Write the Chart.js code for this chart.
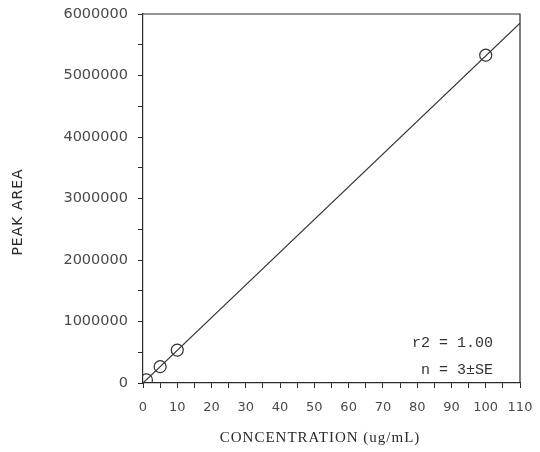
<!DOCTYPE html>
<html>
<head>
<meta charset="utf-8">
<script src="https://cdn.jsdelivr.net/npm/chart.js@4/dist/chart.umd.min.js"></script>
<style>
  html, body { margin: 0; padding: 0; background: #fff; }
  canvas { display: block; }
</style>
</head>
<body>
<canvas id="c" width="540" height="452"></canvas>
<script>
// Calibration standards: concentration (ug/mL) and measured peak area
const concentrations = [1, 5, 10, 100];
const peakAreas = [50000, 265000, 535000, 5330000];

// Fitted calibration line end points
const fitX = [0, 110];
const fitY = [0, 5850000];

// Axis ranges and labels
const xMin = 0, xMax = 110, xMinorStep = 5, xMajorStep = 10;
const yMin = 0, yMax = 6000000, yMinorStep = 500000, yMajorStep = 1000000;
const xTitle = 'CONCENTRATION (ug/mL)';
const yTitle = 'PEAK AREA';
const statLines = ['r2 = 1.00', 'n = 3\u00b1SE'];

const ink = '#2a2a2a';
const tickInk = '#4a4a4a';

// Box frame, axis titles and statistics box
const decorations = {
  id: 'decorations',
  afterDraw(chart) {
    const { ctx, chartArea: a } = chart;
    ctx.save();
    ctx.strokeStyle = ink;
    ctx.lineWidth = 1.2;
    ctx.beginPath();
    ctx.moveTo(a.left, a.top);
    ctx.lineTo(a.right, a.top);
    ctx.lineTo(a.right, a.bottom);
    ctx.stroke();

    // x axis title
    ctx.fillStyle = ink;
    ctx.font = '15px "Liberation Serif", serif';
    ctx.letterSpacing = '1px';
    ctx.textAlign = 'center';
    ctx.textBaseline = 'middle';
    ctx.fillText(xTitle, 320, 438);

    // y axis title
    ctx.save();
    ctx.translate(18, 212);
    ctx.rotate(-Math.PI / 2);
    ctx.font = '14px "DejaVu Sans", sans-serif';
    ctx.letterSpacing = '1px';
    ctx.fillText(yTitle, 0, 0);
    ctx.restore();

    // regression statistics
    ctx.letterSpacing = '0px';
    ctx.font = '15px "Liberation Mono", monospace';
    ctx.textAlign = 'right';
    ctx.fillStyle = '#333';
    ctx.fillText(statLines[0], a.right - 27, 343);
    ctx.fillText(statLines[1], a.right - 27, 370);
    ctx.restore();
  }
};

new Chart(document.getElementById('c'), {
  type: 'scatter',
  data: {
    datasets: [
      {
        type: 'line',
        data: fitX.map((x, i) => ({ x, y: fitY[i] })),
        borderColor: '#333',
        borderWidth: 1.2,
        pointRadius: 0,
        fill: false,
        tension: 0
      },
      {
        data: concentrations.map((x, i) => ({ x, y: peakAreas[i] })),
        pointStyle: 'circle',
        pointRadius: 6,
        pointBackgroundColor: 'rgba(255,255,255,0)',
        pointBorderColor: '#333',
        pointBorderWidth: 1.2
      }
    ]
  },
  options: {
    responsive: false,
    animation: false,
    devicePixelRatio: 1,
    layout: { padding: { top: 14, right: 20, left: 0, bottom: 0 } },
    plugins: { legend: { display: false }, tooltip: { enabled: false } },
    scales: {
      x: {
        type: 'linear',
        min: xMin,
        max: xMax,
        afterFit(scale) {
          scale.height = 69;
          scale.paddingLeft = 0;
          scale.paddingRight = 0;
        },
        afterBuildTicks(scale) {
          const t = [];
          for (let v = xMin; v <= xMax; v += xMinorStep) t.push({ value: v });
          scale.ticks = t;
        },
        ticks: {
          autoSkip: false,
          maxRotation: 0,
          padding: 12,
          color: tickInk,
          font: { family: '"DejaVu Sans", sans-serif', size: 13 },
          callback: v => (v % xMajorStep === 0 ? String(v) : '')
        },
        grid: { drawOnChartArea: false, drawTicks: true, tickLength: 5, tickColor: ink, tickWidth: 1 },
        border: { display: true, color: ink, width: 1.2 }
      },
      y: {
        type: 'linear',
        min: yMin,
        max: yMax,
        afterFit(scale) {
          scale.width = 143;
          scale.paddingTop = 0;
          scale.paddingBottom = 0;
        },
        afterBuildTicks(scale) {
          const t = [];
          for (let v = yMin; v <= yMax; v += yMinorStep) t.push({ value: v });
          scale.ticks = t;
        },
        ticks: {
          autoSkip: false,
          padding: 10,
          color: tickInk,
          font: { family: '"DejaVu Sans", sans-serif', size: 14.5 },
          callback: v => (v % yMajorStep === 0 ? String(v) : '')
        },
        grid: { drawOnChartArea: false, drawTicks: true, tickLength: 5, tickColor: ink, tickWidth: 1 },
        border: { display: true, color: ink, width: 1.2 }
      }
    }
  },
  plugins: [decorations]
});
</script>
</body>
</html>
